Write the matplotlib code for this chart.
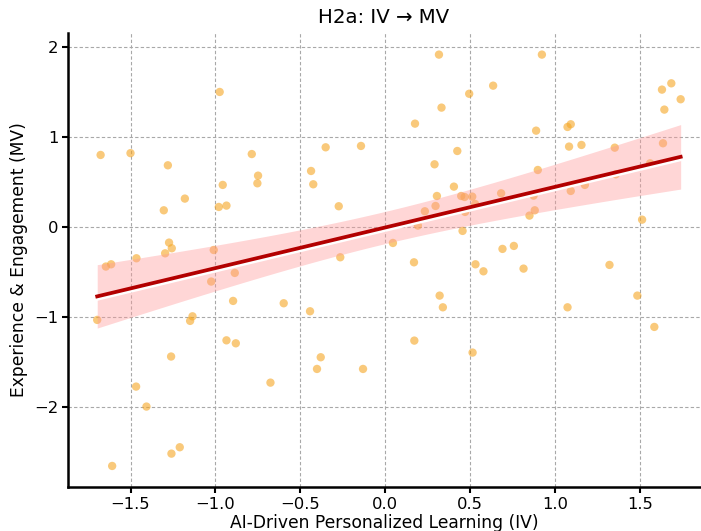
import numpy as np
import matplotlib
matplotlib.use("Agg")
import matplotlib.pyplot as plt
import matplotlib.patheffects as pe

# IV / MV scores
iv = [-1.676, -1.50, -1.28, -0.975, -0.786, -0.749, -0.753, -0.957, -1.18, -1.304,
      -0.98, -0.935, -0.437, -0.424, -0.351, -0.143, -0.274, -1.273, -1.257, -1.296,
      -1.01, -1.465, -0.265,
      -1.645, -1.614, -1.025, -0.886, -1.696, -0.896, -0.598, -0.443, -1.149, -1.135,
      -0.935, -0.88, -1.261, -0.38, -0.402, -0.131, -0.676, -1.467, -1.406, -1.21,
      -1.259, -1.608,
      0.316, 0.922, 0.635, 0.494, 0.331, 0.175, 0.888, 1.073, 1.092, 1.082,
      1.155, 1.351, 1.629, 1.684, 1.739, 1.643, 1.635, 0.424, 0.29, 0.898,
      1.559, 1.357, 0.404, 0.304, 0.447, 0.467, 0.512, 0.682, 0.873, 1.092,
      1.175, 0.529, 0.296, 0.233, 0.47, 0.88, 0.849, 0.192, 0.455, 0.045,
      1.512, 0.69, 0.757,
      0.169, 0.531, 0.578, 0.814, 1.32, 0.32, 0.339, 1.073, 1.484, 1.584, 0.171,
      0.514]
mv = [0.80, 0.82, 0.685, 1.50, 0.81, 0.57, 0.485, 0.467, 0.315, 0.185,
      0.222, 0.237, 0.622, 0.474, 0.885, 0.90, 0.23, -0.174, -0.237, -0.293,
      -0.256, -0.348, -0.337,
      -0.44, -0.415, -0.607, -0.511, -1.033, -0.822, -0.848, -0.937, -1.044, -0.993,
      -1.26, -1.293, -1.44, -1.448, -1.578, -1.578, -1.73, -1.774, -1.996, -2.448,
      -2.519, -2.656,
      1.915, 1.915, 1.57, 1.48, 1.326, 1.148, 1.07, 1.111, 1.141, 0.893,
      0.911, 0.881, 1.526, 1.596, 1.419, 1.304, 0.93, 0.844, 0.696, 0.633,
      0.707, 0.585, 0.448, 0.344, 0.344, 0.333, 0.337, 0.374, 0.348, 0.40,
      0.467, 0.255, 0.233, 0.174, 0.167, 0.185, 0.126, 0.015, -0.044, -0.178,
      0.081, -0.244, -0.211,
      -0.393, -0.415, -0.493, -0.463, -0.422, -0.763, -0.893, -0.893, -0.763, -1.111, -1.263,
      -1.396]

x = np.array(iv)
y = np.array(mv)

# OLS fit + 95% confidence band of the mean
n = len(x)
slope, intercept = np.polyfit(x, y, 1)
resid = y - (slope * x + intercept)
s = np.sqrt(np.sum(resid ** 2) / (n - 2))
sxx = np.sum((x - x.mean()) ** 2)
xs = np.linspace(x.min(), x.max(), 100)
ys = slope * xs + intercept
se = s * np.sqrt(1 / n + (xs - x.mean()) ** 2 / sxx)
t95 = 1.984

fig = plt.figure(figsize=(7.01, 5.31), dpi=100)
ax = fig.add_axes([0.097, 0.083, 0.9016, 0.855])

ax.grid(True, linestyle=(0, (3, 2)), color="#a8a8a8", linewidth=0.8)
ax.set_axisbelow(True)

ax.scatter(x, y, s=36, color="#f5a623", alpha=0.6, edgecolors="none", zorder=2)
ax.fill_between(xs, ys - t95 * se, ys + t95 * se, color="#ff9999", alpha=0.4,
                linewidth=0, zorder=3)
ax.plot(xs, ys, color="#b30000", linewidth=2.7, zorder=4,
        path_effects=[pe.SimpleLineShadow(offset=(0, -1.8), shadow_color="white", alpha=1, rho=1),
                      pe.Normal()])

ax.set_xlim(-1.868, 1.853)
ax.set_ylim(-2.889, 2.156)
ax.set_xticks([-1.5, -1.0, -0.5, 0.0, 0.5, 1.0, 1.5])
ax.set_yticks([-2, -1, 0, 1, 2])

for side in ["top", "right"]:
    ax.spines[side].set_visible(False)
for side in ["left", "bottom"]:
    ax.spines[side].set_linewidth(1.8)
ax.tick_params(direction="out", length=4, width=1.5, labelsize=11.8, pad=3)

ax.set_title("H2a: IV → MV", fontsize=14.2, pad=7)
ax.set_xlabel("AI-Driven Personalized Learning (IV)", fontsize=12.3, labelpad=2)
ax.set_ylabel("Experience & Engagement (MV)", fontsize=12.3, labelpad=4)

fig.savefig("out.png", dpi=100)
